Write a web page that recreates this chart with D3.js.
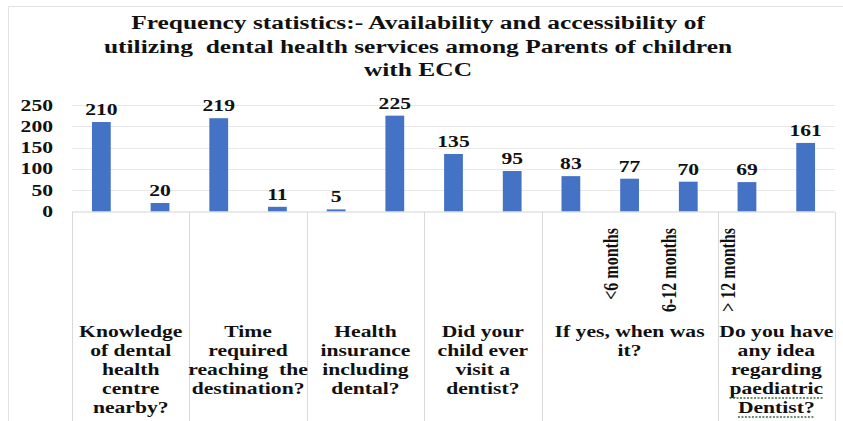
<!DOCTYPE html>
<html>
<head>
<meta charset="utf-8">
<script src="https://cdn.jsdelivr.net/npm/d3@7"></script>
<style>
  html, body { margin: 0; padding: 0; background: #fff; }
  svg { display: block; }
  text { font-family: "Liberation Serif", "Times New Roman", serif; font-weight: bold; fill: #111; white-space: pre; }
</style>
</head>
<body>
<div id="chart"></div>
<script>
// ---- data ----
const titleLines = [
  "Frequency statistics:- Availability and accessibility of",
  "utilizing  dental health services among Parents of children",
  "with ECC"
];
const groupLines = [
  ["Knowledge", "of dental", "health", "centre", "nearby?"],
  ["Time", "required", "reaching  the", "destination?"],
  ["Health", "insurance", "including", "dental?"],
  ["Did your", "child ever", "visit a", "dentist?"],
  ["If yes, when was", "it?"],
  ["Do you have", "any idea", "regarding", "paediatric", "Dentist?"]
];
const barGroup = [0, 0, 1, 1, 2, 2, 3, 3, 4, 4, 4, 5, 5];
const values = [210, 20, 219, 11, 5, 225, 135, 95, 83, 77, 70, 69, 161];
const subLabels = ["", "", "", "", "", "", "", "", "", "<6 months", "6-12 months", "> 12 months", ""];
const yTicks = [0, 50, 100, 150, 200, 250];
const underlined = ["paediatric", "Dentist?"];

// ---- layout ----
const W = 843, H = 421;
const SX = 1.35; // horizontal stretch of the reference glyphs
const svg = d3.select("#chart").append("svg").attr("width", W).attr("height", H);

const x = d3.scaleBand().domain(d3.range(values.length)).range([72, 835]).paddingInner(0.68).paddingOuter(0.34);
const y = d3.scaleLinear().domain([0, 250]).range([211.5, 105]);
const step = x.step(), bw = x.bandwidth();
const slotLeft = i => x(i) - (step - bw) / 2;

// chart border
svg.append("path").attr("d", `M8.5,${H} V6.5 H${W}`).attr("fill", "none").attr("stroke", "#e2e2e2");

// title
svg.append("g").selectAll("text").data(titleLines).join("text")
  .attr("transform", (d, i) => `translate(418,${29 + i * 23.5}) scale(1.34,1)`)
  .attr("text-anchor", "middle").attr("font-size", 19).text(d => d);

// gridlines
svg.append("g").selectAll("line").data(yTicks.filter(t => t > 0)).join("line")
  .attr("x1", 72).attr("x2", 835).attr("y1", d => Math.round(y(d)) + 0.5).attr("y2", d => Math.round(y(d)) + 0.5)
  .attr("stroke", "#e8e8e8");

// y tick labels
svg.append("g").selectAll("text").data(yTicks).join("text")
  .attr("transform", d => `translate(53,${y(d) + 5.5}) scale(${SX},1)`)
  .attr("text-anchor", "end").attr("font-size", 16).text(d => d);

// bars
svg.append("g").selectAll("rect").data(values).join("rect")
  .attr("x", (d, i) => x(i)).attr("width", bw)
  .attr("y", d => y(d)).attr("height", d => y(0) - y(d))
  .attr("fill", "#4472C4");

// data labels
svg.append("g").selectAll("text").data(values).join("text")
  .attr("transform", (d, i) => `translate(${x(i) + bw / 2},${y(d) - 7}) scale(${SX},1)`)
  .attr("text-anchor", "middle").attr("font-size", 16).text(d => d);

// category axis line
svg.append("line").attr("x1", 72).attr("x2", 835).attr("y1", 212).attr("y2", 212).attr("stroke", "#d4d4d4");

// group boundaries
const groupIdx = d3.range(groupLines.length);
const gStart = groupIdx.map(g => slotLeft(barGroup.indexOf(g)));
const gEnd = groupIdx.map(g => slotLeft(barGroup.lastIndexOf(g)) + step);
const bounds = gStart.concat([gEnd[gEnd.length - 1]]);
svg.append("g").selectAll("line").data(bounds).join("line")
  .attr("x1", d => Math.round(d) + 0.5).attr("x2", d => Math.round(d) + 0.5)
  .attr("y1", 212).attr("y2", H).attr("stroke", "#d9d9d9");

// sub labels (rotated)
svg.append("g").selectAll("text").data(subLabels.map((s, i) => ({ s, i })).filter(d => d.s)).join("text")
  .attr("transform", d => `translate(${x(d.i) + bw / 2 - 18.5},228) scale(1.25,1) rotate(-90)`)
  .attr("text-anchor", "end").attr("dominant-baseline", "central").attr("font-size", 16).text(d => d.s);

// group labels
const gl = svg.append("g");
groupIdx.forEach(g => {
  const cx = (gStart[g] + gEnd[g]) / 2;
  groupLines[g].forEach((line, li) => {
    const by = 337 + li * 19;
    const t = gl.append("text")
      .attr("transform", `translate(${cx},${by}) scale(${SX},1)`)
      .attr("text-anchor", "middle").attr("font-size", 16).text(line);
    if (g === groupLines.length - 1 && underlined.includes(line)) {
      const w = t.node().getComputedTextLength() * SX;
      gl.append("line").attr("x1", cx - w / 2).attr("x2", cx + w / 2)
        .attr("y1", by + 4).attr("y2", by + 4)
        .attr("stroke", "#3d6b45").attr("stroke-width", 1.3).attr("stroke-dasharray", "2,1.5");
    }
  });
});
</script>
</body>
</html>
